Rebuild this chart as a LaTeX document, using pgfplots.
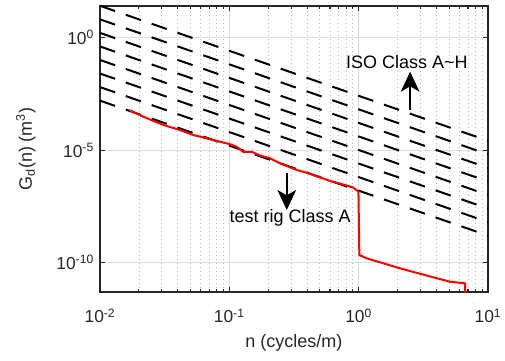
\documentclass[border=0pt]{standalone}
\usepackage{fontspec}
\setmainfont{Liberation Sans}
\usepackage{pgfplots}
\pgfplotsset{compat=1.18}
\usetikzlibrary{arrows.meta}
\definecolor{axgray}{RGB}{38,38,38}
\definecolor{majgrid}{RGB}{220,220,220}
\definecolor{mingrid}{RGB}{185,185,185}
\begin{document}
\begin{tikzpicture}
\begin{loglogaxis}[
  scale only axis, width=291pt, height=214.5pt,
  xmin=0.01, xmax=10, ymin=5e-12, ymax=25.7,
  xtick={0.01,0.1,1,10},
  xticklabels={10\textsuperscript{-2},10\textsuperscript{-1},10\textsuperscript{0},10\textsuperscript{1}},
  ytick={1e-10,1e-5,1},
  yticklabels={10\textsuperscript{-10},10\textsuperscript{-5},10\textsuperscript{0}},
  yminorticks=false,
  xmajorgrids, ymajorgrids, xminorgrids,
  major grid style={majgrid, line width=0.6pt},
  minor grid style={mingrid, line width=0.6pt, dash pattern=on 0.6pt off 2.4pt},
  axis line style={axgray, line width=1.2pt},
  tick style={axgray, line width=0.8pt},
  major tick length=4pt, minor tick length=2.5pt,
  ticklabel style={font=\fontsize{13}{15}\selectfont, text=axgray},
  xticklabel style={yshift=-9pt},
  yticklabel style={xshift=-1pt},
  xlabel={n (cycles/m)},
  ylabel={G\textsubscript{d}(n) (m\textsuperscript{3})},
  every axis x label/.style={at={(axis description cs:0.5,-0.178)}, anchor=center, font=\fontsize{13.5}{16}\selectfont, text=axgray},
  every axis y label/.style={at={(axis description cs:-0.191,0.5)}, anchor=center, rotate=90, font=\fontsize{13.5}{16}\selectfont, text=axgray},
  clip=true,
]
\coordinate (bl) at (rel axis cs:0,0);
\coordinate (tr) at (rel axis cs:1,1);
% ISO 8608 classes A-H
\addplot[black, line width=1.5pt, dash pattern=on 12pt off 8.5pt] coordinates {(0.01,1.6e-3) (10,1.6e-9)};
\addplot[black, line width=1.5pt, dash pattern=on 12pt off 8.5pt] coordinates {(0.01,6.4e-3) (10,6.4e-9)};
\addplot[black, line width=1.5pt, dash pattern=on 12pt off 8.5pt] coordinates {(0.01,2.56e-2) (10,2.56e-8)};
\addplot[black, line width=1.5pt, dash pattern=on 12pt off 8.5pt] coordinates {(0.01,0.1024) (10,1.024e-7)};
\addplot[black, line width=1.5pt, dash pattern=on 12pt off 8.5pt] coordinates {(0.01,0.4096) (10,4.096e-7)};
\addplot[black, line width=1.5pt, dash pattern=on 12pt off 8.5pt] coordinates {(0.01,1.6384) (10,1.6384e-6)};
\addplot[black, line width=1.5pt, dash pattern=on 12pt off 8.5pt] coordinates {(0.01,6.5536) (10,6.5536e-6)};
\addplot[black, line width=1.5pt, dash pattern=on 12pt off 8.5pt] coordinates {(0.01,26.2144) (10,2.62144e-5)};
% test rig
\addplot[red, line width=1.5pt] coordinates {
(0.01675,6.12e-4) (0.02163,3.08e-4) (0.0309,1.32e-4) (0.0416,7.91e-5)
(0.0527,4.74e-5) (0.0668,3.38e-5) (0.0847,2.39e-5) (0.1,1.89e-5)
(0.114,1.43e-5) (0.1285,8.32e-6) (0.149,8.57e-6) (0.1726,5.81e-6)
(0.2065,4.37e-6) (0.2466,2.62e-6) (0.332,1.32e-6) (0.397,1.0e-6)
(0.601,4.28e-7) (0.809,2.70e-7) (0.910,2.15e-7) (0.996,1.46e-7)
(1.012,2.20e-10) (1.153,1.57e-10) (2.089,5.64e-11) (3.784,2.24e-11)
(5.093,1.43e-11) (6.653,1.21e-11) (6.653,1e-13)};
\draw[black, line width=1.5pt, -{Stealth[length=15pt,width=14pt,inset=4pt]}] (axis cs:2.5,6.1e-4) -- (axis cs:2.5,3.1e-2);
\draw[black, line width=1.5pt, -{Stealth[length=15pt,width=14pt,inset=4pt]}] (axis cs:0.278,9.4e-7) -- (axis cs:0.278,2.2e-8);
\node[font=\fontsize{13.5}{16}\selectfont, inner sep=0pt] at (axis cs:2.355,8.57e-2) {ISO Class A\textasciitilde H};
\node[font=\fontsize{13.5}{16}\selectfont, inner sep=0pt] at (axis cs:0.295,9.5e-9) {test rig Class A};
\end{loglogaxis}
\pgfresetboundingbox
\path ([shift={(-75pt,-51pt)}]bl) rectangle ([shift={(12.75pt,4.5pt)}]tr);
\end{tikzpicture}
\end{document}
